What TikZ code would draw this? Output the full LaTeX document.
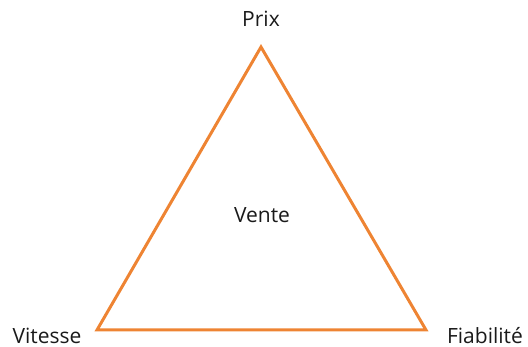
\documentclass[tikz,border=0pt]{standalone}
\usepackage{fontspec}
\setmainfont{Open Sans}
\definecolor{tri}{HTML}{EE8433}
\definecolor{txt}{HTML}{1A1A1A}
\begin{document}
\begin{tikzpicture}[x=1pt,y=-1pt,
  lab/.style={text=txt,font=\fontsize{21}{24}\selectfont,inner sep=0pt,anchor=base},
  edge/.style={draw=tri,line width=3pt,line join=miter}]
\useasboundingbox (0,0) rectangle (528,347);
\coordinate (top) at (261,47);
\coordinate (bl) at (97,330);
\coordinate (br) at (426,330);
\draw[edge] (top) -- (bl) -- (br) -- cycle;
\node[lab] (prix) at (261,27) {Prix};
\node[lab] (vente) at (262,223) {Vente};
\node[lab] (vitesse) at (47,344) {Vitesse};
\node[lab] (fiab) at (485,344) {Fiabilité};
\end{tikzpicture}
\end{document}
